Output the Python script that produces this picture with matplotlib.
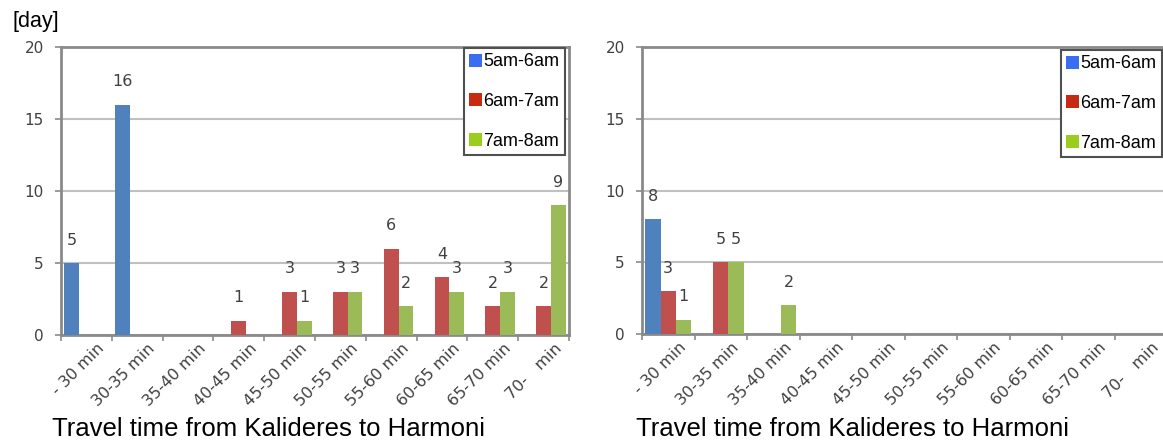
import matplotlib
matplotlib.use("Agg")
import matplotlib.pyplot as plt
from matplotlib.patches import Patch
from matplotlib.font_manager import FontProperties
import numpy as np

categories = ['- 30 min', '30-35 min', '35-40 min', '40-45 min', '45-50 min',
              '50-55 min', '55-60 min', '60-65 min', '65-70 min', '70-   min']
series_names = ['5am-6am', '6am-7am', '7am-8am']

# days per travel-time bin, left chart
left_5_6 = [5, 16, 0, 0, 0, 0, 0, 0, 0, 0]
left_6_7 = [0, 0, 0, 1, 3, 3, 6, 4, 2, 2]
left_7_8 = [0, 0, 0, 0, 1, 3, 2, 3, 3, 9]

# days per travel-time bin, right chart
right_5_6 = [8, 0, 0, 0, 0, 0, 0, 0, 0, 0]
right_6_7 = [3, 5, 0, 0, 0, 0, 0, 0, 0, 0]
right_7_8 = [1, 5, 2, 0, 0, 0, 0, 0, 0, 0]

title = 'Travel time from Kalideres to Harmoni'

bar_colors = ['#4F81BD', '#C0504D', '#9BBB59']
legend_colors = ['#3A6EF2', '#C62A12', '#9ACD1E']
spine_grey = '#8A8A8A'
grid_grey = '#C0C0C0'
text_grey = '#404040'

W, H = 1163, 444
fig = plt.figure(figsize=(W / 100, H / 100), dpi=100)

tick_font = FontProperties(family='DejaVu Sans', size=11.5)
ytick_font = FontProperties(family='DejaVu Sans', size=11)
value_font = FontProperties(family='DejaVu Sans', size=11.5)
legend_font = FontProperties(family='Liberation Sans', size=13)


def px_axes(x0, x1, y_top, y_bot):
    return fig.add_axes([x0 / W, 1 - y_bot / H, (x1 - x0) / W, (y_bot - y_top) / H])


def draw_panel(ax, data, legend_box):
    x = np.arange(len(categories))
    bw = 0.29
    for i, vals in enumerate(data):
        bars = ax.bar(x + (i - 1) * bw, vals, bw, color=bar_colors[i],
                      edgecolor='none', zorder=3)
        for b, v in zip(bars, vals):
            if v > 0:
                ax.annotate(str(v), (b.get_x() + b.get_width() / 2, v),
                            xytext=(0, 16.5), textcoords='offset points',
                            ha='center', va='center', fontproperties=value_font,
                            color=text_grey)

    ax.set_xlim(-0.5, len(categories) - 0.5)
    ax.set_ylim(0, 20)
    ax.set_yticks([0, 5, 10, 15, 20])
    ax.yaxis.grid(True, color=grid_grey, linewidth=1.5, zorder=0)
    ax.set_axisbelow(True)

    # slanted labels hang a little right of each bin centre,
    # tick marks go on the bin edges
    ax.set_xticks(x + 0.2)
    ax.set_xticks(np.arange(len(categories) + 1) - 0.5, minor=True)
    ax.set_xticklabels(categories, rotation=45, ha='right',
                       rotation_mode='anchor', color=text_grey)
    for lab in ax.get_xticklabels():
        lab.set_fontproperties(tick_font)
    ax.tick_params(axis='x', which='major', length=0, pad=4)
    ax.tick_params(axis='x', which='minor', length=4.5, width=1.2,
                   color=spine_grey, direction='out')
    ax.tick_params(axis='y', length=4.5, width=1.2, color=spine_grey,
                   direction='out', pad=8, labelcolor=text_grey)
    for lab in ax.get_yticklabels():
        lab.set_fontproperties(ytick_font)

    for side in ['left', 'top', 'right', 'bottom']:
        ax.spines[side].set_color(spine_grey)
        ax.spines[side].set_linewidth(2)

    handles = [Patch(facecolor=c, edgecolor='none') for c in legend_colors]
    leg = ax.legend(handles, series_names, loc='upper right',
                    bbox_to_anchor=(legend_box[0] / W, 1 - legend_box[1] / H),
                    bbox_transform=fig.transFigure, borderaxespad=0,
                    fancybox=False, shadow=False, framealpha=1,
                    edgecolor='#505050', prop=legend_font,
                    handlelength=0.7, handleheight=0.75, handletextpad=0.1,
                    labelspacing=1.25, borderpad=0.3)
    leg.get_frame().set_linewidth(1.5)
    return ax


ax1 = px_axes(61, 569, 47, 335)
draw_panel(ax1, [left_5_6, left_6_7, left_7_8], (565, 48))

ax2 = px_axes(642, 1167, 47, 334)
draw_panel(ax2, [right_5_6, right_6_7, right_7_8], (1162, 50))

fig.text(12 / W, 1 - 21 / H, '[day]', ha='left', va='center',
         fontsize=15.5, family='Liberation Sans', color='black')
fig.text(268 / W, 1 - 429 / H, title, ha='center', va='center',
         fontsize=18.5, family='Liberation Sans', color='black')
fig.text(852 / W, 1 - 429 / H, title, ha='center', va='center',
         fontsize=18.5, family='Liberation Sans', color='black')

fig.savefig('out.png', dpi=100)
